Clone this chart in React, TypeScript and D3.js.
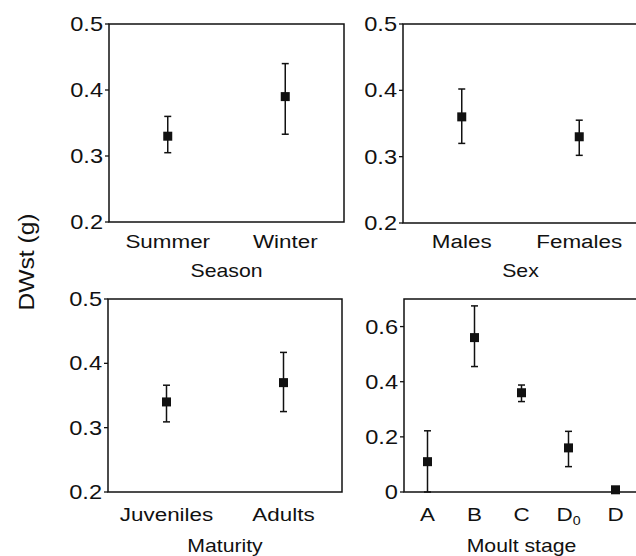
import React from "react";
import * as d3 from "d3";

const seasonCats = ["Summer", "Winter"];
const seasonMean = [0.33, 0.39];
const seasonHi = [0.36, 0.44];
const seasonLo = [0.305, 0.333];

const sexCats = ["Males", "Females"];
const sexMean = [0.36, 0.33];
const sexHi = [0.402, 0.355];
const sexLo = [0.32, 0.302];

const maturityCats = ["Juveniles", "Adults"];
const maturityMean = [0.34, 0.37];
const maturityHi = [0.366, 0.417];
const maturityLo = [0.309, 0.325];

const moultCats = ["A", "B", "C", "D0", "D"];
const moultMean = [0.11, 0.56, 0.36, 0.16, 0.008];
const moultHi = [0.222, 0.675, 0.388, 0.22, null];
const moultLo = [0.0, 0.455, 0.328, 0.092, null];

const ticksA = [0.2, 0.3, 0.4, 0.5];
const ticksMoult = [0, 0.2, 0.4, 0.6];

const FONT = "'Liberation Sans', Arial, Helvetica, sans-serif";
const SX = 1.18;

type PanelProps = {
  x0: number; x1: number; y0: number; y1: number;
  domain: [number, number];
  ticks: number[];
  cats: string[];
  mean: number[];
  hi: (number | null)[];
  lo: (number | null)[];
  title: string;
  fmt: (v: number) => string;
  closeRight: boolean;
  labOff: number;
  titleOff: number;
};

function STxt(props: { x: number; y: number; anchor: string; size: number; children: React.ReactNode }) {
  return (
    <text
      transform={`translate(${props.x},${props.y}) scale(${SX},1)`}
      textAnchor={props.anchor}
      fontSize={props.size}
      fontFamily={FONT}
      fill="#111"
    >
      {props.children}
    </text>
  );
}

function Panel(p: PanelProps) {
  const y = d3.scaleLinear().domain(p.domain).range([p.y1, p.y0]);
  const x = d3.scaleBand<string>().domain(p.cats).range([p.x0, p.x1]).padding(0);
  const cx = (c: string) => (x(c) as number) + x.bandwidth() / 2;
  const ms = 9;
  const cap = 3.5;
  return (
    <g>
      {p.closeRight ? (
        <rect x={p.x0} y={p.y0} width={p.x1 - p.x0} height={p.y1 - p.y0} fill="none" stroke="#111" strokeWidth={1.5} />
      ) : (
        <path d={`M${p.x1 + 10},${p.y0}H${p.x0}V${p.y1}H${p.x1 + 10}`} fill="none" stroke="#111" strokeWidth={1.5} />
      )}
      {p.ticks.map((t) => (
        <g key={t}>
          <line x1={p.x0 - 4} x2={p.x0} y1={y(t)} y2={y(t)} stroke="#111" strokeWidth={1.3} />
          <STxt x={p.x0 - 6} y={y(t) + 7} anchor="end" size={20}>{p.fmt(t)}</STxt>
        </g>
      ))}
      {p.cats.map((c, i) => (
        <g key={c}>
          {p.hi[i] !== null && p.lo[i] !== null && (
            <g stroke="#111" strokeWidth={1.5}>
              <line x1={cx(c)} x2={cx(c)} y1={y(p.hi[i] as number)} y2={y(p.lo[i] as number)} />
              <line x1={cx(c) - cap} x2={cx(c) + cap} y1={y(p.hi[i] as number)} y2={y(p.hi[i] as number)} />
              <line x1={cx(c) - cap} x2={cx(c) + cap} y1={y(p.lo[i] as number)} y2={y(p.lo[i] as number)} />
            </g>
          )}
          <rect x={cx(c) - ms / 2} y={y(p.mean[i]) - ms / 2} width={ms} height={ms} fill="#111" />
          {c === "D0" ? (
            <text
              transform={`translate(${cx(c)},${p.y1 + p.labOff}) scale(${SX},1)`}
              textAnchor="middle"
              fontSize={19}
              fontFamily={FONT}
              fill="#111"
            >
              D<tspan fontSize={12} dy={4}>0</tspan>
            </text>
          ) : (
            <STxt x={cx(c)} y={p.y1 + p.labOff} anchor="middle" size={19}>{c}</STxt>
          )}
        </g>
      ))}
      <STxt x={(p.x0 + p.x1) / 2} y={p.y1 + p.titleOff} anchor="middle" size={18}>{p.title}</STxt>
    </g>
  );
}

export default function App() {
  const f1 = (v: number) => d3.format(".1f")(v);
  const f2 = (v: number) => (v === 0 ? "0" : d3.format(".1f")(v));
  return (
    <svg width={636} height={556} style={{ position: "absolute", left: 0, top: 0, background: "#fff" }}>
      <rect width={636} height={556} fill="#fff" />
      <Panel x0={109} x1={344} y0={24} y1={222} domain={[0.2, 0.5]} ticks={ticksA}
        cats={seasonCats} mean={seasonMean} hi={seasonHi} lo={seasonLo} title="Season" fmt={f1} closeRight={true} labOff={26} titleOff={55} />
      <Panel x0={403} x1={638} y0={24} y1={223} domain={[0.2, 0.5]} ticks={ticksA}
        cats={sexCats} mean={sexMean} hi={sexHi} lo={sexLo} title="Sex" fmt={f1} closeRight={false} labOff={25} titleOff={54} />
      <Panel x0={108} x1={342} y0={299} y1={492} domain={[0.2, 0.5]} ticks={ticksA}
        cats={maturityCats} mean={maturityMean} hi={maturityHi} lo={maturityLo} title="Maturity" fmt={f1} closeRight={true} labOff={29} titleOff={60} />
      <Panel x0={404} x1={639} y0={299} y1={492} domain={[0, 0.7]} ticks={ticksMoult}
        cats={moultCats} mean={moultMean} hi={moultHi} lo={moultLo} title="Moult stage" fmt={f2} closeRight={false} labOff={29} titleOff={60} />
      <text transform="translate(34,262) rotate(-90) scale(1.12,1)" textAnchor="middle" fontSize={22} fontFamily={FONT} fill="#111">
        DWst (g)
      </text>
    </svg>
  );
}
